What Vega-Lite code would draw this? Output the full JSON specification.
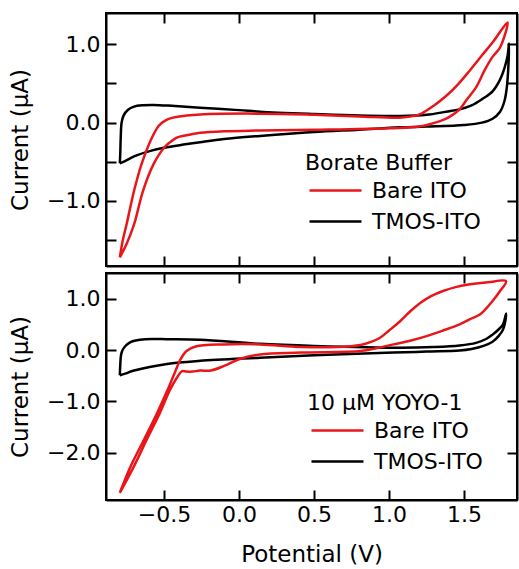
{
  "$schema": "https://vega.github.io/schema/vega-lite/v6.json",
  "padding": {"left": 8, "top": 11, "right": 0, "bottom": 2},
  "bounds": "flush",
  "spacing": 7,
  "config": {
    "font": "DejaVu Sans",
    "view": {"stroke": "black", "strokeWidth": 2},
    "axis": {"grid": false, "domainColor": "black", "domainWidth": 2, "tickColor": "black", "tickWidth": 2, "tickSize": -10, "labelFontSize": 22, "labelColor": "black", "titleFontSize": 23, "titleFontWeight": "normal", "titleColor": "black", "labelFont": "DejaVu Sans", "titleFont": "DejaVu Sans"},
    "axisX": {"labelPadding": 14, "titlePadding": 18},
    "axisY": {"labelPadding": 16, "titlePadding": 14},
    "legend": {"titleFontSize": 22, "titleFontWeight": "normal", "titleColor": "black", "labelFontSize": 22, "labelColor": "black", "labelFont": "DejaVu Sans", "titleFont": "DejaVu Sans", "symbolSize": 400, "symbolStrokeWidth": 2.5, "symbolOffset": 19, "labelOffset": 25, "rowPadding": 8, "titlePadding": 4, "padding": 0},
    "line": {"strokeWidth": 2.5, "strokeJoin": "round", "interpolate": "catmull-rom"}
  },
  "datasets": {
    "cv": [
      {"panel": "A", "electrode": "TMOS-ITO", "i": 1, "potential": -0.795, "current": -0.52},
      {"panel": "A", "electrode": "TMOS-ITO", "i": 2, "potential": -0.792, "current": -0.40},
      {"panel": "A", "electrode": "TMOS-ITO", "i": 3, "potential": -0.789, "current": -0.20},
      {"panel": "A", "electrode": "TMOS-ITO", "i": 4, "potential": -0.783, "current": 0.00},
      {"panel": "A", "electrode": "TMOS-ITO", "i": 5, "potential": -0.770, "current": 0.09},
      {"panel": "A", "electrode": "TMOS-ITO", "i": 6, "potential": -0.74, "current": 0.165},
      {"panel": "A", "electrode": "TMOS-ITO", "i": 7, "potential": -0.70, "current": 0.205},
      {"panel": "A", "electrode": "TMOS-ITO", "i": 8, "potential": -0.64, "current": 0.222},
      {"panel": "A", "electrode": "TMOS-ITO", "i": 9, "potential": -0.57, "current": 0.226},
      {"panel": "A", "electrode": "TMOS-ITO", "i": 10, "potential": -0.45, "current": 0.215},
      {"panel": "A", "electrode": "TMOS-ITO", "i": 11, "potential": -0.26, "current": 0.19},
      {"panel": "A", "electrode": "TMOS-ITO", "i": 12, "potential": 0.0, "current": 0.16},
      {"panel": "A", "electrode": "TMOS-ITO", "i": 13, "potential": 0.14, "current": 0.14},
      {"panel": "A", "electrode": "TMOS-ITO", "i": 14, "potential": 0.5, "current": 0.11},
      {"panel": "A", "electrode": "TMOS-ITO", "i": 15, "potential": 0.8, "current": 0.09},
      {"panel": "A", "electrode": "TMOS-ITO", "i": 16, "potential": 1.07, "current": 0.085},
      {"panel": "A", "electrode": "TMOS-ITO", "i": 17, "potential": 1.25, "current": 0.10},
      {"panel": "A", "electrode": "TMOS-ITO", "i": 18, "potential": 1.38, "current": 0.14},
      {"panel": "A", "electrode": "TMOS-ITO", "i": 19, "potential": 1.47, "current": 0.17},
      {"panel": "A", "electrode": "TMOS-ITO", "i": 20, "potential": 1.55, "current": 0.22},
      {"panel": "A", "electrode": "TMOS-ITO", "i": 21, "potential": 1.62, "current": 0.30},
      {"panel": "A", "electrode": "TMOS-ITO", "i": 22, "potential": 1.69, "current": 0.40},
      {"panel": "A", "electrode": "TMOS-ITO", "i": 23, "potential": 1.74, "current": 0.55},
      {"panel": "A", "electrode": "TMOS-ITO", "i": 24, "potential": 1.77, "current": 0.70},
      {"panel": "A", "electrode": "TMOS-ITO", "i": 25, "potential": 1.79, "current": 0.85},
      {"panel": "A", "electrode": "TMOS-ITO", "i": 26, "potential": 1.80, "current": 1.01},
      {"panel": "A", "electrode": "TMOS-ITO", "i": 27, "potential": 1.795, "current": 0.70},
      {"panel": "A", "electrode": "TMOS-ITO", "i": 28, "potential": 1.785, "current": 0.45},
      {"panel": "A", "electrode": "TMOS-ITO", "i": 29, "potential": 1.77, "current": 0.28},
      {"panel": "A", "electrode": "TMOS-ITO", "i": 30, "potential": 1.74, "current": 0.14},
      {"panel": "A", "electrode": "TMOS-ITO", "i": 31, "potential": 1.69, "current": 0.05},
      {"panel": "A", "electrode": "TMOS-ITO", "i": 32, "potential": 1.62, "current": 0.0},
      {"panel": "A", "electrode": "TMOS-ITO", "i": 33, "potential": 1.50, "current": -0.03},
      {"panel": "A", "electrode": "TMOS-ITO", "i": 34, "potential": 1.25, "current": -0.05},
      {"panel": "A", "electrode": "TMOS-ITO", "i": 35, "potential": 1.07, "current": -0.06},
      {"panel": "A", "electrode": "TMOS-ITO", "i": 36, "potential": 0.8, "current": -0.09},
      {"panel": "A", "electrode": "TMOS-ITO", "i": 37, "potential": 0.5, "current": -0.12},
      {"panel": "A", "electrode": "TMOS-ITO", "i": 38, "potential": 0.14, "current": -0.17},
      {"panel": "A", "electrode": "TMOS-ITO", "i": 39, "potential": -0.1, "current": -0.21},
      {"panel": "A", "electrode": "TMOS-ITO", "i": 40, "potential": -0.26, "current": -0.25},
      {"panel": "A", "electrode": "TMOS-ITO", "i": 41, "potential": -0.37, "current": -0.28},
      {"panel": "A", "electrode": "TMOS-ITO", "i": 42, "potential": -0.50, "current": -0.32},
      {"panel": "A", "electrode": "TMOS-ITO", "i": 43, "potential": -0.59, "current": -0.36},
      {"panel": "A", "electrode": "TMOS-ITO", "i": 44, "potential": -0.70, "current": -0.43},
      {"panel": "A", "electrode": "TMOS-ITO", "i": 45, "potential": -0.76, "current": -0.49},
      {"panel": "A", "electrode": "TMOS-ITO", "i": 46, "potential": -0.795, "current": -0.52},

      {"panel": "A", "electrode": "Bare ITO", "i": 1, "potential": -0.795, "current": -1.72},
      {"panel": "A", "electrode": "Bare ITO", "i": 2, "potential": -0.775, "current": -1.50},
      {"panel": "A", "electrode": "Bare ITO", "i": 3, "potential": -0.75, "current": -1.30},
      {"panel": "A", "electrode": "Bare ITO", "i": 4, "potential": -0.725, "current": -1.08},
      {"panel": "A", "electrode": "Bare ITO", "i": 5, "potential": -0.70, "current": -0.87},
      {"panel": "A", "electrode": "Bare ITO", "i": 6, "potential": -0.65, "current": -0.53},
      {"panel": "A", "electrode": "Bare ITO", "i": 7, "potential": -0.59, "current": -0.23},
      {"panel": "A", "electrode": "Bare ITO", "i": 8, "potential": -0.535, "current": -0.04},
      {"panel": "A", "electrode": "Bare ITO", "i": 9, "potential": -0.49, "current": 0.03},
      {"panel": "A", "electrode": "Bare ITO", "i": 10, "potential": -0.44, "current": 0.064},
      {"panel": "A", "electrode": "Bare ITO", "i": 11, "potential": -0.35, "current": 0.09},
      {"panel": "A", "electrode": "Bare ITO", "i": 12, "potential": -0.26, "current": 0.105},
      {"panel": "A", "electrode": "Bare ITO", "i": 13, "potential": 0.14, "current": 0.115},
      {"panel": "A", "electrode": "Bare ITO", "i": 14, "potential": 0.5, "current": 0.10},
      {"panel": "A", "electrode": "Bare ITO", "i": 15, "potential": 0.8, "current": 0.08},
      {"panel": "A", "electrode": "Bare ITO", "i": 16, "potential": 1.07, "current": 0.064},
      {"panel": "A", "electrode": "Bare ITO", "i": 17, "potential": 1.15, "current": 0.08},
      {"panel": "A", "electrode": "Bare ITO", "i": 18, "potential": 1.22, "current": 0.12},
      {"panel": "A", "electrode": "Bare ITO", "i": 19, "potential": 1.30, "current": 0.22},
      {"panel": "A", "electrode": "Bare ITO", "i": 20, "potential": 1.38, "current": 0.34},
      {"panel": "A", "electrode": "Bare ITO", "i": 21, "potential": 1.46, "current": 0.49},
      {"panel": "A", "electrode": "Bare ITO", "i": 22, "potential": 1.54, "current": 0.67},
      {"panel": "A", "electrode": "Bare ITO", "i": 23, "potential": 1.62, "current": 0.86},
      {"panel": "A", "electrode": "Bare ITO", "i": 24, "potential": 1.70, "current": 1.05},
      {"panel": "A", "electrode": "Bare ITO", "i": 25, "potential": 1.79, "current": 1.28},
      {"panel": "A", "electrode": "Bare ITO", "i": 26, "potential": 1.74, "current": 0.96},
      {"panel": "A", "electrode": "Bare ITO", "i": 27, "potential": 1.69, "current": 0.84},
      {"panel": "A", "electrode": "Bare ITO", "i": 28, "potential": 1.64, "current": 0.68},
      {"panel": "A", "electrode": "Bare ITO", "i": 29, "potential": 1.58, "current": 0.45},
      {"panel": "A", "electrode": "Bare ITO", "i": 30, "potential": 1.52, "current": 0.30},
      {"panel": "A", "electrode": "Bare ITO", "i": 31, "potential": 1.47, "current": 0.17},
      {"panel": "A", "electrode": "Bare ITO", "i": 32, "potential": 1.40, "current": 0.07},
      {"panel": "A", "electrode": "Bare ITO", "i": 33, "potential": 1.34, "current": 0.02},
      {"panel": "A", "electrode": "Bare ITO", "i": 34, "potential": 1.20, "current": -0.05},
      {"panel": "A", "electrode": "Bare ITO", "i": 35, "potential": 1.0, "current": -0.07},
      {"panel": "A", "electrode": "Bare ITO", "i": 36, "potential": 0.5, "current": -0.09},
      {"panel": "A", "electrode": "Bare ITO", "i": 37, "potential": 0.14, "current": -0.10},
      {"panel": "A", "electrode": "Bare ITO", "i": 38, "potential": -0.1, "current": -0.11},
      {"panel": "A", "electrode": "Bare ITO", "i": 39, "potential": -0.26, "current": -0.13},
      {"panel": "A", "electrode": "Bare ITO", "i": 40, "potential": -0.35, "current": -0.16},
      {"panel": "A", "electrode": "Bare ITO", "i": 41, "potential": -0.415, "current": -0.19},
      {"panel": "A", "electrode": "Bare ITO", "i": 42, "potential": -0.46, "current": -0.25},
      {"panel": "A", "electrode": "Bare ITO", "i": 43, "potential": -0.50, "current": -0.32},
      {"panel": "A", "electrode": "Bare ITO", "i": 44, "potential": -0.57, "current": -0.53},
      {"panel": "A", "electrode": "Bare ITO", "i": 45, "potential": -0.64, "current": -0.87},
      {"panel": "A", "electrode": "Bare ITO", "i": 46, "potential": -0.70, "current": -1.30},
      {"panel": "A", "electrode": "Bare ITO", "i": 47, "potential": -0.75, "current": -1.55},
      {"panel": "A", "electrode": "Bare ITO", "i": 48, "potential": -0.795, "current": -1.72},

      {"panel": "B", "electrode": "TMOS-ITO", "i": 1, "potential": -0.795, "current": -0.49},
      {"panel": "B", "electrode": "TMOS-ITO", "i": 2, "potential": -0.792, "current": -0.30},
      {"panel": "B", "electrode": "TMOS-ITO", "i": 3, "potential": -0.787, "current": -0.10},
      {"panel": "B", "electrode": "TMOS-ITO", "i": 4, "potential": -0.775, "current": 0.01},
      {"panel": "B", "electrode": "TMOS-ITO", "i": 5, "potential": -0.75, "current": 0.10},
      {"panel": "B", "electrode": "TMOS-ITO", "i": 6, "potential": -0.72, "current": 0.16},
      {"panel": "B", "electrode": "TMOS-ITO", "i": 7, "potential": -0.66, "current": 0.20},
      {"panel": "B", "electrode": "TMOS-ITO", "i": 8, "potential": -0.58, "current": 0.215},
      {"panel": "B", "electrode": "TMOS-ITO", "i": 9, "potential": -0.48, "current": 0.21},
      {"panel": "B", "electrode": "TMOS-ITO", "i": 10, "potential": -0.26, "current": 0.20},
      {"panel": "B", "electrode": "TMOS-ITO", "i": 11, "potential": 0.14, "current": 0.12},
      {"panel": "B", "electrode": "TMOS-ITO", "i": 12, "potential": 0.5, "current": 0.08},
      {"panel": "B", "electrode": "TMOS-ITO", "i": 13, "potential": 1.07, "current": 0.045},
      {"panel": "B", "electrode": "TMOS-ITO", "i": 14, "potential": 1.30, "current": 0.06},
      {"panel": "B", "electrode": "TMOS-ITO", "i": 15, "potential": 1.47, "current": 0.09},
      {"panel": "B", "electrode": "TMOS-ITO", "i": 16, "potential": 1.58, "current": 0.14},
      {"panel": "B", "electrode": "TMOS-ITO", "i": 17, "potential": 1.65, "current": 0.22},
      {"panel": "B", "electrode": "TMOS-ITO", "i": 18, "potential": 1.69, "current": 0.30},
      {"panel": "B", "electrode": "TMOS-ITO", "i": 19, "potential": 1.73, "current": 0.40},
      {"panel": "B", "electrode": "TMOS-ITO", "i": 20, "potential": 1.76, "current": 0.50},
      {"panel": "B", "electrode": "TMOS-ITO", "i": 21, "potential": 1.78, "current": 0.71},
      {"panel": "B", "electrode": "TMOS-ITO", "i": 22, "potential": 1.775, "current": 0.56},
      {"panel": "B", "electrode": "TMOS-ITO", "i": 23, "potential": 1.76, "current": 0.40},
      {"panel": "B", "electrode": "TMOS-ITO", "i": 24, "potential": 1.73, "current": 0.27},
      {"panel": "B", "electrode": "TMOS-ITO", "i": 25, "potential": 1.69, "current": 0.16},
      {"panel": "B", "electrode": "TMOS-ITO", "i": 26, "potential": 1.63, "current": 0.08},
      {"panel": "B", "electrode": "TMOS-ITO", "i": 27, "potential": 1.55, "current": 0.02},
      {"panel": "B", "electrode": "TMOS-ITO", "i": 28, "potential": 1.47, "current": -0.01},
      {"panel": "B", "electrode": "TMOS-ITO", "i": 29, "potential": 1.25, "current": -0.03},
      {"panel": "B", "electrode": "TMOS-ITO", "i": 30, "potential": 1.03, "current": -0.05},
      {"panel": "B", "electrode": "TMOS-ITO", "i": 31, "potential": 0.5, "current": -0.10},
      {"panel": "B", "electrode": "TMOS-ITO", "i": 32, "potential": 0.14, "current": -0.15},
      {"panel": "B", "electrode": "TMOS-ITO", "i": 33, "potential": -0.26, "current": -0.21},
      {"panel": "B", "electrode": "TMOS-ITO", "i": 34, "potential": -0.48, "current": -0.27},
      {"panel": "B", "electrode": "TMOS-ITO", "i": 35, "potential": -0.70, "current": -0.40},
      {"panel": "B", "electrode": "TMOS-ITO", "i": 36, "potential": -0.76, "current": -0.46},
      {"panel": "B", "electrode": "TMOS-ITO", "i": 37, "potential": -0.795, "current": -0.49},

      {"panel": "B", "electrode": "Bare ITO", "i": 1, "potential": -0.795, "current": -2.78},
      {"panel": "B", "electrode": "Bare ITO", "i": 2, "potential": -0.727, "current": -2.29},
      {"panel": "B", "electrode": "Bare ITO", "i": 3, "potential": -0.64, "current": -1.78},
      {"panel": "B", "electrode": "Bare ITO", "i": 4, "potential": -0.55, "current": -1.25},
      {"panel": "B", "electrode": "Bare ITO", "i": 5, "potential": -0.48, "current": -0.80},
      {"panel": "B", "electrode": "Bare ITO", "i": 6, "potential": -0.43, "current": -0.45},
      {"panel": "B", "electrode": "Bare ITO", "i": 7, "potential": -0.39, "current": -0.18},
      {"panel": "B", "electrode": "Bare ITO", "i": 8, "potential": -0.35, "current": -0.02},
      {"panel": "B", "electrode": "Bare ITO", "i": 9, "potential": -0.29, "current": 0.07},
      {"panel": "B", "electrode": "Bare ITO", "i": 10, "potential": -0.1, "current": 0.11},
      {"panel": "B", "electrode": "Bare ITO", "i": 11, "potential": 0.14, "current": 0.11},
      {"panel": "B", "electrode": "Bare ITO", "i": 12, "potential": 0.41, "current": 0.06},
      {"panel": "B", "electrode": "Bare ITO", "i": 13, "potential": 0.65, "current": 0.06},
      {"panel": "B", "electrode": "Bare ITO", "i": 14, "potential": 0.81, "current": 0.10},
      {"panel": "B", "electrode": "Bare ITO", "i": 15, "potential": 0.88, "current": 0.16},
      {"panel": "B", "electrode": "Bare ITO", "i": 16, "potential": 0.94, "current": 0.24},
      {"panel": "B", "electrode": "Bare ITO", "i": 17, "potential": 1.0, "current": 0.38},
      {"panel": "B", "electrode": "Bare ITO", "i": 18, "potential": 1.07, "current": 0.55},
      {"panel": "B", "electrode": "Bare ITO", "i": 19, "potential": 1.14, "current": 0.75},
      {"panel": "B", "electrode": "Bare ITO", "i": 20, "potential": 1.21, "current": 0.92},
      {"panel": "B", "electrode": "Bare ITO", "i": 21, "potential": 1.28, "current": 1.05},
      {"panel": "B", "electrode": "Bare ITO", "i": 22, "potential": 1.36, "current": 1.15},
      {"panel": "B", "electrode": "Bare ITO", "i": 23, "potential": 1.45, "current": 1.23},
      {"panel": "B", "electrode": "Bare ITO", "i": 24, "potential": 1.54, "current": 1.28},
      {"panel": "B", "electrode": "Bare ITO", "i": 25, "potential": 1.66, "current": 1.32},
      {"panel": "B", "electrode": "Bare ITO", "i": 26, "potential": 1.78, "current": 1.34},
      {"panel": "B", "electrode": "Bare ITO", "i": 27, "potential": 1.74, "current": 1.15},
      {"panel": "B", "electrode": "Bare ITO", "i": 28, "potential": 1.69, "current": 0.955},
      {"panel": "B", "electrode": "Bare ITO", "i": 29, "potential": 1.61, "current": 0.70},
      {"panel": "B", "electrode": "Bare ITO", "i": 30, "potential": 1.54, "current": 0.60},
      {"panel": "B", "electrode": "Bare ITO", "i": 31, "potential": 1.47, "current": 0.50},
      {"panel": "B", "electrode": "Bare ITO", "i": 32, "potential": 1.36, "current": 0.38},
      {"panel": "B", "electrode": "Bare ITO", "i": 33, "potential": 1.25, "current": 0.27},
      {"panel": "B", "electrode": "Bare ITO", "i": 34, "potential": 1.14, "current": 0.18},
      {"panel": "B", "electrode": "Bare ITO", "i": 35, "potential": 1.03, "current": 0.11},
      {"panel": "B", "electrode": "Bare ITO", "i": 36, "potential": 0.92, "current": 0.04},
      {"panel": "B", "electrode": "Bare ITO", "i": 37, "potential": 0.81, "current": -0.02},
      {"panel": "B", "electrode": "Bare ITO", "i": 38, "potential": 0.41, "current": -0.05},
      {"panel": "B", "electrode": "Bare ITO", "i": 39, "potential": 0.14, "current": -0.085},
      {"panel": "B", "electrode": "Bare ITO", "i": 40, "potential": 0.0, "current": -0.18},
      {"panel": "B", "electrode": "Bare ITO", "i": 41, "potential": -0.10, "current": -0.31},
      {"panel": "B", "electrode": "Bare ITO", "i": 42, "potential": -0.19, "current": -0.40},
      {"panel": "B", "electrode": "Bare ITO", "i": 43, "potential": -0.26, "current": -0.40},
      {"panel": "B", "electrode": "Bare ITO", "i": 44, "potential": -0.31, "current": -0.42},
      {"panel": "B", "electrode": "Bare ITO", "i": 45, "potential": -0.35, "current": -0.42},
      {"panel": "B", "electrode": "Bare ITO", "i": 46, "potential": -0.38, "current": -0.41},
      {"panel": "B", "electrode": "Bare ITO", "i": 47, "potential": -0.41, "current": -0.52},
      {"panel": "B", "electrode": "Bare ITO", "i": 48, "potential": -0.46, "current": -0.77},
      {"panel": "B", "electrode": "Bare ITO", "i": 49, "potential": -0.527, "current": -1.22},
      {"panel": "B", "electrode": "Bare ITO", "i": 50, "potential": -0.615, "current": -1.74},
      {"panel": "B", "electrode": "Bare ITO", "i": 51, "potential": -0.70, "current": -2.26},
      {"panel": "B", "electrode": "Bare ITO", "i": 52, "potential": -0.795, "current": -2.78}
    ]
  },
  "resolve": {"scale": {"color": "independent"}},
  "vconcat": [
    {
      "width": 411,
      "height": 253,
      "layer": [
        {
          "data": {"name": "cv"},
          "transform": [{"filter": "datum.panel === 'A'"}],
          "mark": {"type": "line"},
          "encoding": {
            "x": {"field": "potential", "type": "quantitative", "scale": {"domain": [-0.887, 1.853], "nice": false, "zero": false}, "axis": {"values": [-0.5, 0, 0.5, 1, 1.5], "labels": false, "title": null}},
            "y": {"field": "current", "type": "quantitative", "scale": {"domain": [-1.83, 1.40], "nice": false, "zero": false}, "axis": {"values": [-1.5, -1, -0.5, 0, 0.5, 1], "labelExpr": "abs(datum.value % 1) < 0.001 ? format(datum.value, '.1f') : ''", "title": "Current (μA)"}},
            "color": {"field": "electrode", "type": "nominal", "scale": {"domain": ["Bare ITO", "TMOS-ITO"], "range": ["#e8161b", "#000000"]}, "legend": {"title": "Borate Buffer", "orient": "none", "legendX": 199, "legendY": 140, "symbolType": "M-2.6,0H2.6"}},
            "order": {"field": "i", "type": "quantitative"}
          }
        },
        {
          "mark": {"type": "text", "fontSize": 22, "align": "left", "baseline": "alphabetic", "color": "black"},
          "encoding": {
            "x": {"datum": -0.68, "type": "quantitative", "scale": {"domain": [-0.887, 1.853], "nice": false, "zero": false}, "axis": {"orient": "top", "values": [-0.5, 0, 0.5, 1, 1.5], "labels": false, "title": null}},
            "y": {"datum": 0.76, "type": "quantitative", "scale": {"domain": [-1.83, 1.40], "nice": false, "zero": false}, "axis": {"orient": "right", "values": [-1.5, -1, -0.5, 0, 0.5, 1], "labels": false, "title": null}},
            "text": {"value": "A)"}
          }
        }
      ],
      "resolve": {"scale": {"x": "independent", "y": "independent"}}
    },
    {
      "width": 411,
      "height": 227,
      "layer": [
        {
          "data": {"name": "cv"},
          "transform": [{"filter": "datum.panel === 'B'"}],
          "mark": {"type": "line"},
          "encoding": {
            "x": {"field": "potential", "type": "quantitative", "scale": {"domain": [-0.887, 1.853], "nice": false, "zero": false}, "axis": {"values": [-0.5, 0, 0.5, 1, 1.5], "format": ".1f", "title": "Potential (V)"}},
            "y": {"field": "current", "type": "quantitative", "scale": {"domain": [-2.92, 1.50], "nice": false, "zero": false}, "axis": {"values": [-2, -1, 0, 1], "format": ".1f", "title": "Current (μA)"}},
            "color": {"field": "electrode", "type": "nominal", "scale": {"domain": ["Bare ITO", "TMOS-ITO"], "range": ["#e8161b", "#000000"]}, "legend": {"title": "10 μM YOYO-1", "orient": "none", "legendX": 201, "legendY": 120, "symbolType": "M-2.6,0H2.6"}},
            "order": {"field": "i", "type": "quantitative"}
          }
        },
        {
          "mark": {"type": "text", "fontSize": 22, "align": "left", "baseline": "alphabetic", "color": "black"},
          "encoding": {
            "x": {"datum": -0.68, "type": "quantitative", "scale": {"domain": [-0.887, 1.853], "nice": false, "zero": false}, "axis": {"orient": "top", "values": [-0.5, 0, 0.5, 1, 1.5], "labels": false, "title": null}},
            "y": {"datum": 0.60, "type": "quantitative", "scale": {"domain": [-2.92, 1.50], "nice": false, "zero": false}, "axis": {"orient": "right", "values": [-2, -1, 0, 1], "labels": false, "title": null}},
            "text": {"value": "B)"}
          }
        }
      ],
      "resolve": {"scale": {"x": "independent", "y": "independent"}}
    }
  ]
}
